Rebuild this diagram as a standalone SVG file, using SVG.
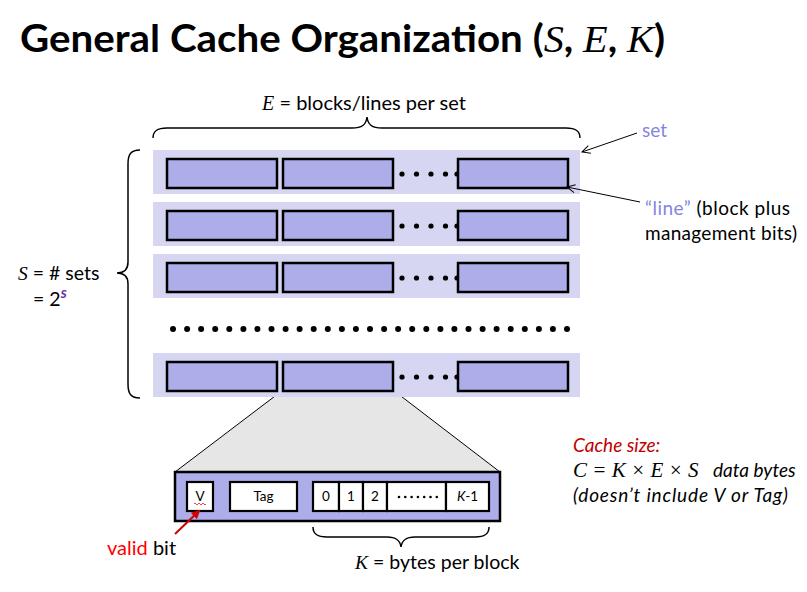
<svg xmlns="http://www.w3.org/2000/svg" width="807" height="592" viewBox="0 0 807 592">
  <defs>
    <style>
      .sans { font-family: Lato, "Open Sans", "Liberation Sans", sans-serif; }
      .math { font-family: "Liberation Serif", "DejaVu Serif", serif; font-style: italic; }
      .setbg { fill: #d6d6f3; }
      .blk { fill: #adadea; stroke: #000; stroke-width: 2.5; }
      .cell { fill: #fff; stroke: #000; stroke-width: 2.2; }
      .brace { fill: none; stroke: #000; stroke-width: 1.5; }
      .ptr { fill: none; stroke: #000; stroke-width: 1; }
      .dot { fill: #000; }
    </style>
    <marker id="open" viewBox="0 0 10 10" refX="9" refY="5" markerWidth="10" markerHeight="10" orient="auto" markerUnits="userSpaceOnUse">
      <path d="M1,1 L9,5 L1,9" fill="none" stroke="#000" stroke-width="1"/>
    </marker>
    <marker id="redhead" viewBox="0 0 10 10" refX="8" refY="5" markerWidth="9" markerHeight="9" orient="auto" markerUnits="userSpaceOnUse">
      <path d="M0,0 L10,5 L0,10 Z" fill="#d00000"/>
    </marker>
    <g id="dots4">
      <circle class="dot" cx="0" cy="0" r="2.6"/>
      <circle class="dot" cx="14.5" cy="0" r="2.6"/>
      <circle class="dot" cx="29" cy="0" r="2.6"/>
      <circle class="dot" cx="43.5" cy="0" r="2.6"/>
      <circle class="dot" cx="55" cy="0" r="2.6"/>
    </g>
  </defs>

  <rect width="807" height="592" fill="#fff"/>

  <!-- title -->
  <text class="sans" x="20" y="52" font-size="38" font-weight="bold" textLength="645" lengthAdjust="spacingAndGlyphs">General Cache Organization (<tspan class="math" font-weight="normal">S</tspan>, <tspan class="math" font-weight="normal">E</tspan>, <tspan class="math" font-weight="normal">K</tspan>)</text>

  <!-- E label and top brace -->
  <text x="364" y="110" font-size="20" text-anchor="middle" class="sans"><tspan class="math">E</tspan> = blocks/lines per set</text>
  <path class="brace" d="M153,138 C153,131 157,128 167,128 L352,128 C362,128 366,125 367,117 C368,125 372,128 382,128 L566,128 C576,128 580,131 580,138"/>

  <!-- S label and left brace -->
  <text x="18" y="280" font-size="19.5" class="sans"><tspan class="math">S</tspan> = # sets</text>
  <text x="33" y="306" font-size="19.5" class="sans">= 2<tspan dy="-8" font-size="15" font-weight="bold" font-style="italic" fill="#7030a0" font-family="Lato, 'Open Sans', sans-serif">s</tspan></text>
  <path class="brace" d="M140,150 C131,150 128,154 128,164 L128,262 C128,269 125,273 117,273 C125,273 128,277 128,284 L128,384 C128,394 131,398 140,398"/>

  <!-- sets -->
  <g id="set0">
    <rect class="setbg" x="153" y="150" width="427" height="44"/>
    <rect class="blk" x="167" y="159" width="110" height="29"/>
    <rect class="blk" x="283" y="159" width="110" height="29"/>
    <use href="#dots4" x="402" y="174"/>
    <rect class="blk" x="458" y="159" width="110" height="29"/>
  </g>
  <g id="set1">
    <rect class="setbg" x="153" y="202" width="427" height="44"/>
    <rect class="blk" x="167" y="211" width="110" height="29"/>
    <rect class="blk" x="283" y="211" width="110" height="29"/>
    <use href="#dots4" x="402" y="226"/>
    <rect class="blk" x="458" y="211" width="110" height="29"/>
  </g>
  <g id="set2">
    <rect class="setbg" x="153" y="254" width="427" height="44"/>
    <rect class="blk" x="167" y="263" width="110" height="29"/>
    <rect class="blk" x="283" y="263" width="110" height="29"/>
    <use href="#dots4" x="402" y="278"/>
    <rect class="blk" x="458" y="263" width="110" height="29"/>
  </g>

  <!-- vertical ellipsis row -->
  <g id="more-sets">
    <circle class="dot" cx="173.0" cy="329" r="3"/><circle class="dot" cx="187.1" cy="329" r="3"/>
    <circle class="dot" cx="201.1" cy="329" r="3"/><circle class="dot" cx="215.2" cy="329" r="3"/>
    <circle class="dot" cx="229.3" cy="329" r="3"/><circle class="dot" cx="243.4" cy="329" r="3"/>
    <circle class="dot" cx="257.4" cy="329" r="3"/><circle class="dot" cx="271.5" cy="329" r="3"/>
    <circle class="dot" cx="285.6" cy="329" r="3"/><circle class="dot" cx="299.6" cy="329" r="3"/>
    <circle class="dot" cx="313.7" cy="329" r="3"/><circle class="dot" cx="327.8" cy="329" r="3"/>
    <circle class="dot" cx="341.9" cy="329" r="3"/><circle class="dot" cx="355.9" cy="329" r="3"/>
    <circle class="dot" cx="370.0" cy="329" r="3"/><circle class="dot" cx="384.1" cy="329" r="3"/>
    <circle class="dot" cx="398.1" cy="329" r="3"/><circle class="dot" cx="412.2" cy="329" r="3"/>
    <circle class="dot" cx="426.3" cy="329" r="3"/><circle class="dot" cx="440.4" cy="329" r="3"/>
    <circle class="dot" cx="454.4" cy="329" r="3"/><circle class="dot" cx="468.5" cy="329" r="3"/>
    <circle class="dot" cx="482.6" cy="329" r="3"/><circle class="dot" cx="496.6" cy="329" r="3"/>
    <circle class="dot" cx="510.7" cy="329" r="3"/><circle class="dot" cx="524.8" cy="329" r="3"/>
    <circle class="dot" cx="538.9" cy="329" r="3"/><circle class="dot" cx="552.9" cy="329" r="3"/>
    <circle class="dot" cx="567.0" cy="329" r="3"/>
  </g>

  <!-- zoom funnel from the selected block -->
  <path d="M283,390 L393,390 L500,472 L175,472 Z" fill="#e6e6e6" stroke="#000" stroke-width="1"/>

  <g id="set3">
    <rect class="setbg" x="153" y="353" width="427" height="44"/>
    <rect class="blk" x="167" y="362" width="110" height="29"/>
    <rect class="blk" x="283" y="362" width="110" height="29"/>
    <use href="#dots4" x="402" y="377"/>
    <rect class="blk" x="458" y="362" width="110" height="29"/>
  </g>

  <!-- expanded line -->
  <g id="line-detail">
    <rect class="blk" x="175" y="472" width="325" height="49" stroke-width="3"/>
    <rect class="cell" x="187" y="482" width="26" height="29"/>
    <text class="sans" x="200" y="501" font-size="13.5" text-anchor="middle">V</text>
    <path d="M194,504 q1,-2 2,0 t2,0 t2,0 t2,0 t2,0 t2,0" fill="none" stroke="#e02020" stroke-width="0.8"/>
    <rect class="cell" x="230" y="482" width="67" height="29"/>
    <text class="sans" x="263.5" y="501" font-size="13.5" text-anchor="middle">Tag</text>
    <rect class="cell" x="313" y="482" width="26" height="29"/>
    <text class="sans" x="326" y="501" font-size="13.5" text-anchor="middle">0</text>
    <rect class="cell" x="339" y="482" width="24" height="29"/>
    <text class="sans" x="351" y="501" font-size="13.5" text-anchor="middle">1</text>
    <rect class="cell" x="363" y="482" width="24" height="29"/>
    <text class="sans" x="375" y="501" font-size="13.5" text-anchor="middle">2</text>
    <rect class="cell" x="387" y="482" width="59" height="29"/>
    <g class="dot">
      <circle cx="399" cy="497" r="1.3"/><circle cx="405.3" cy="497" r="1.3"/><circle cx="411.6" cy="497" r="1.3"/>
      <circle cx="417.9" cy="497" r="1.3"/><circle cx="424.2" cy="497" r="1.3"/><circle cx="430.5" cy="497" r="1.3"/>
      <circle cx="436.8" cy="497" r="1.3"/>
    </g>
    <rect class="cell" x="446" y="482" width="43" height="29"/>
    <text class="sans" x="467.5" y="501" font-size="13.5" text-anchor="middle"><tspan font-style="italic">K</tspan>-1</text>
  </g>

  <!-- K brace -->
  <path class="brace" d="M313,527 C313,534 317,537 327,537 L387,537 C396,537 400,540 401,547 C402,540 406,537 415,537 L475,537 C485,537 489,534 489,527"/>
  <text x="355" y="569" font-size="19.5" class="sans"><tspan class="math">K</tspan> = bytes per block</text>

  <!-- annotations -->
  <g id="connectors">
    <line class="ptr" x1="637" y1="133" x2="582" y2="152" marker-end="url(#open)"/>
    <line class="ptr" x1="640" y1="202" x2="567" y2="187" marker-end="url(#open)"/>
    <line x1="175" y1="534" x2="199" y2="511" stroke="#d00000" stroke-width="2" marker-end="url(#redhead)"/>
  </g>

  <text x="642" y="137" font-size="19" class="sans" fill="#8585e0">set</text>
  <text x="645" y="215" font-size="19" class="sans" textLength="145" lengthAdjust="spacing"><tspan fill="#8585e0">“line”</tspan> (block plus</text>
  <text x="645" y="240" font-size="19" class="sans" textLength="152" lengthAdjust="spacing">management bits)</text>

  <text x="107" y="555" font-size="20" class="sans"><tspan fill="#ff0000">valid</tspan> bit</text>

  <text x="573" y="452" font-size="19" class="sans" font-style="italic" fill="#c00000">Cache size:</text>
  <text x="573" y="477" font-size="19" class="sans" font-style="italic"><tspan class="math" font-size="21">C</tspan><tspan class="math" font-style="normal" font-size="21"> = </tspan><tspan class="math" font-size="21">K</tspan><tspan class="math" font-style="normal" font-size="21"> × </tspan><tspan class="math" font-size="21">E</tspan><tspan class="math" font-style="normal" font-size="21"> × </tspan><tspan class="math" font-size="21">S</tspan><tspan x="713">data bytes</tspan></text>
  <text x="573" y="502" font-size="19" class="sans" font-style="italic" textLength="215" lengthAdjust="spacing">(doesn’t include V or Tag)</text>
</svg>
